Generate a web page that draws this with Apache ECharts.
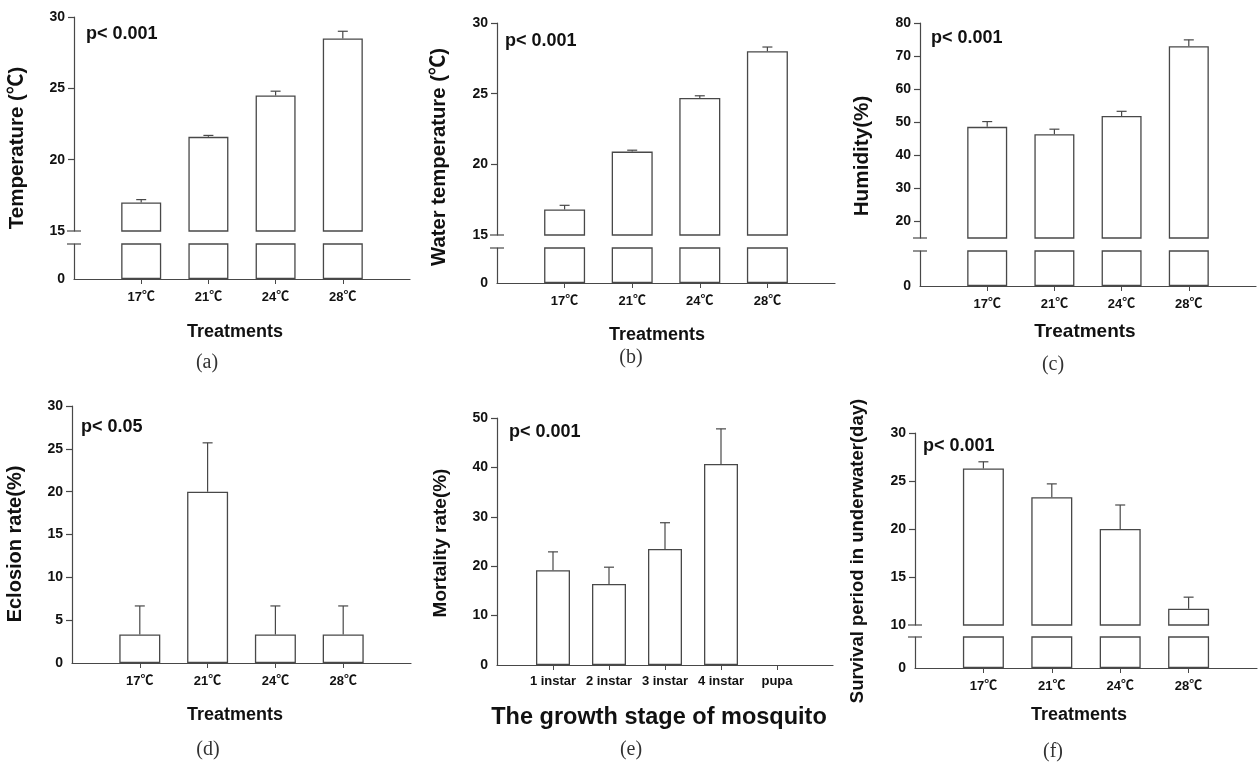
<!DOCTYPE html>
<html><head><meta charset="utf-8">
<script src="https://cdn.jsdelivr.net/npm/echarts@6/dist/echarts.min.js"></script>
<style>html,body{margin:0;padding:0;background:#fff}#c{width:1258px;height:762px}</style>
</head><body><div id="c"></div>
<script>
// ---------- data ----------
const treatments = ['17℃', '21℃', '24℃', '28℃'];
const stages = ['1 instar', '2 instar', '3 instar', '4 instar', 'pupa'];

const airTempMean = [17.0, 21.6, 24.5, 28.5];
const airTempErr = [0.2, 0.1, 0.3, 0.5];
const waterTempMean = [16.8, 20.9, 24.7, 28.0];
const waterTempErr = [0.3, 0.1, 0.15, 0.3];
const humidityMean = [48.6, 46.4, 51.9, 73.0];
const humidityErr = [1.6, 1.5, 1.4, 1.9];
const eclosionMean = [3.33, 20.0, 3.33, 3.33];
const eclosionErr = [3.33, 5.7, 3.33, 3.33];
const mortalityMean = [19.2, 16.4, 23.5, 40.7, 0];
const mortalityErr = [3.7, 3.4, 5.3, 7.1, 0];
const survivalMean = [26.3, 23.3, 20.0, 11.7];
const survivalErr = [0.7, 1.4, 2.5, 1.2];

const airTempTicks = [15, 20, 25, 30];
const waterTempTicks = [15, 20, 25, 30];
const humidityTicks = [20, 30, 40, 50, 60, 70, 80];
const eclosionTicks = [0, 5, 10, 15, 20, 25, 30];
const mortalityTicks = [0, 10, 20, 30, 40, 50];
const survivalTicks = [10, 15, 20, 25, 30];
const lowerTicks = [0];

// ---------- layout / style ----------
const LINE = '#484848';
const TXT = '#111';
const SANS = '"Liberation Sans", Arial, sans-serif';
const CJK = '"Noto Sans CJK KR", "Noto Sans CJK SC", sans-serif';
const SERIF = '"Liberation Serif", "DejaVu Serif", serif';

const panels = [
  {cats: treatments, mean: airTempMean, err: airTempErr, ticks: airTempTicks, min: 15, max: 30, broken: true,
   left: 74, right: 410, top: 17, bottom: 231, lowTop: 244, lowBottom: 279, barW: 40, xFont: 13,
   yTitle: 'Temperature (℃)', yTitlePos: [17, 148], yTitleSize: 20.5,
   xTitle: 'Treatments', xTitlePos: [235, 332], xTitleSize: 18,
   p: 'p< 0.001', pPos: [86, 34], letter: '(a)', letterPos: [207, 363]},
  {cats: treatments, mean: waterTempMean, err: waterTempErr, ticks: waterTempTicks, min: 15, max: 30, broken: true,
   left: 497, right: 835, top: 23, bottom: 235, lowTop: 248, lowBottom: 283, barW: 41, xFont: 13,
   yTitle: 'Water temperature (℃)', yTitlePos: [439, 157], yTitleSize: 20.3,
   xTitle: 'Treatments', xTitlePos: [657, 335], xTitleSize: 18,
   p: 'p< 0.001', pPos: [505, 41], letter: '(b)', letterPos: [631, 358]},
  {cats: treatments, mean: humidityMean, err: humidityErr, ticks: humidityTicks, min: 15, max: 80, broken: true,
   left: 920, right: 1256, top: 23, bottom: 238, lowTop: 251, lowBottom: 286, barW: 40, xFont: 13,
   yTitle: 'Humidity(%)', yTitlePos: [862, 156], yTitleSize: 20.7,
   xTitle: 'Treatments', xTitlePos: [1085, 332], xTitleSize: 19,
   p: 'p< 0.001', pPos: [931, 38], letter: '(c)', letterPos: [1053, 365]},
  {cats: treatments, mean: eclosionMean, err: eclosionErr, ticks: eclosionTicks, min: 0, max: 30, broken: false,
   left: 72, right: 411, top: 406, bottom: 663, barW: 41, xFont: 13,
   yTitle: 'Eclosion rate(%)', yTitlePos: [15, 544], yTitleSize: 20,
   xTitle: 'Treatments', xTitlePos: [235, 715], xTitleSize: 18,
   p: 'p< 0.05', pPos: [81, 427], letter: '(d)', letterPos: [208, 750]},
  {cats: stages, mean: mortalityMean, err: mortalityErr, ticks: mortalityTicks, min: 0, max: 50, broken: false,
   left: 497, right: 833, top: 418, bottom: 665, barW: 34, xFont: 13,
   yTitle: 'Mortality rate(%)', yTitlePos: [441, 543], yTitleSize: 19,
   xTitle: 'The growth stage of mosquito', xTitlePos: [659, 718], xTitleSize: 23.5,
   p: 'p< 0.001', pPos: [509, 432], letter: '(e)', letterPos: [631, 750]},
  {cats: treatments, mean: survivalMean, err: survivalErr, ticks: survivalTicks, min: 10, max: 30, broken: true,
   left: 915, right: 1257, top: 433, bottom: 625, lowTop: 637, lowBottom: 668, barW: 41, xFont: 13,
   yTitle: 'Survival period in underwater(day)', yTitlePos: [858, 551], yTitleSize: 18.5,
   xTitle: 'Treatments', xTitlePos: [1079, 715], xTitleSize: 18,
   p: 'p< 0.001', pPos: [923, 446], letter: '(f)', letterPos: [1053, 752]}
];

// split a string so the ℃ sign is drawn with a CJK font (rich text)
function richDeg(s, a) {
  if (s.indexOf('℃') < 0) return '{' + a + '|' + s + '}';
  const parts = s.split('℃');
  let out = '';
  parts.forEach((pt, i) => {
    if (pt) out += '{' + a + '|' + pt + '}';
    if (i < parts.length - 1) out += '{c|℃}';
  });
  return out;
}

const grids = [], xAxes = [], yAxes = [], series = [], graphics = [];

function errRender(params, api) {
  const x = api.value(0), m = api.value(1), e = api.value(2);
  if (!e) return null;
  const b = api.coord([x, m]);
  const t = api.coord([x, m + e]);
  const st = {stroke: LINE, lineWidth: 1.2};
  return {type: 'group', children: [
    {type: 'line', shape: {x1: b[0], y1: b[1], x2: t[0], y2: t[1]}, style: st},
    {type: 'line', shape: {x1: t[0] - 5, y1: t[1], x2: t[0] + 5, y2: t[1]}, style: st}
  ]};
}
function breakRender(params, api) {
  const pt = api.coord([api.value(0), api.value(1)]);
  return {type: 'line', shape: {x1: pt[0] - 7, y1: pt[1], x2: pt[0] + 7, y2: pt[1]},
          style: {stroke: LINE, lineWidth: 1.2}};
}

panels.forEach(p => {
  const n = p.cats.length;
  const idxs = p.cats.map((_, i) => i + 1);
  // zero-height bars are not drawn (as in the original figure)
  const barData = p.mean.map((v, i) => v === 0 ? [i + 1, null] : [i + 1, v]);
  const errData = p.mean.map((v, i) => [i + 1, v, p.err[i]]);

  function addGrid(top, bottom, yMin, yMax, labelVals, tickVals, showX) {
    const gi = grids.length;
    grids.push({left: p.left, top: top, width: p.right - p.left, height: bottom - top});
    xAxes.push({
      gridIndex: gi, type: 'value', min: 0, max: n + 1, show: showX,
      axisLine: {show: true, onZero: false, lineStyle: {color: LINE, width: 1.2}},
      axisTick: {show: true, customValues: idxs, length: 5, lineStyle: {color: LINE, width: 1}},
      axisLabel: {show: true, customValues: idxs,
                  formatter: v => richDeg(p.cats[Math.round(v) - 1] || '', 'n'),
                  margin: 10, color: TXT,
                  rich: {n: {fontFamily: SANS, fontWeight: 'bold', fontSize: p.xFont, color: TXT},
                         c: {fontFamily: CJK, fontWeight: 'bold', fontSize: 13, color: TXT,
                             padding: [0, 0, 3, 0]}}},
      splitLine: {show: false}
    });
    yAxes.push({
      gridIndex: gi, type: 'value', min: yMin, max: yMax,
      axisLine: {show: true, onZero: false, lineStyle: {color: LINE, width: 1.2}},
      axisTick: {show: tickVals.length > 0, customValues: tickVals, length: 6, inside: false,
                 lineStyle: {color: LINE, width: 1.2}},
      axisLabel: {show: true, customValues: labelVals, margin: 9, fontFamily: SANS, fontWeight: 'bold',
                  fontSize: 14, color: TXT},
      splitLine: {show: false}
    });
    series.push({type: 'bar', xAxisIndex: gi, yAxisIndex: gi, data: barData, barWidth: p.barW, clip: true,
                 silent: true, itemStyle: {color: '#fff', borderColor: LINE, borderWidth: 1.3}});
    return gi;
  }

  if (p.broken) {
    const up = addGrid(p.top, p.bottom, p.min, p.max, p.ticks, p.ticks.filter(t => t !== p.min), false);
    series.push({type: 'custom', xAxisIndex: up, yAxisIndex: up, data: errData, renderItem: errRender, silent: true});
    series.push({type: 'custom', xAxisIndex: up, yAxisIndex: up, data: [[0, p.min]], renderItem: breakRender, silent: true});
    const lo = addGrid(p.lowTop, p.lowBottom, 0, 1, lowerTicks, [], true);
    series.push({type: 'custom', xAxisIndex: lo, yAxisIndex: lo, data: [[0, 1]], renderItem: breakRender, silent: true});
  } else {
    const g = addGrid(p.top, p.bottom, p.min, p.max, p.ticks, p.ticks.filter(t => t !== p.min), true);
    series.push({type: 'custom', xAxisIndex: g, yAxisIndex: g, data: errData, renderItem: errRender, silent: true});
  }

  const titleRich = {
    a: {fontFamily: SANS, fontWeight: 'bold', fontSize: p.yTitleSize, fill: TXT, color: TXT},
    c: {fontFamily: CJK, fontWeight: 'bold', fontSize: p.yTitleSize, fill: TXT, color: TXT,
        padding: [0, 0, 3, 0]}
  };
  graphics.push({type: 'text', x: p.yTitlePos[0], y: p.yTitlePos[1], rotation: Math.PI / 2,
    style: {text: richDeg(p.yTitle, 'a'), rich: titleRich, fill: TXT,
            textAlign: 'center', textVerticalAlign: 'middle', align: 'center', verticalAlign: 'middle'}});
  graphics.push({type: 'text', x: p.xTitlePos[0], y: p.xTitlePos[1],
    style: {text: p.xTitle, font: 'bold ' + p.xTitleSize + 'px ' + SANS, fill: TXT,
            textAlign: 'center', textVerticalAlign: 'middle', align: 'center', verticalAlign: 'middle'}});
  graphics.push({type: 'text', x: p.pPos[0], y: p.pPos[1],
    style: {text: p.p, font: 'bold 18px ' + SANS, fill: TXT,
            textAlign: 'left', textVerticalAlign: 'middle', align: 'left', verticalAlign: 'middle'}});
  graphics.push({type: 'text', x: p.letterPos[0], y: p.letterPos[1],
    style: {text: p.letter, font: '20px ' + SERIF, fill: '#333',
            textAlign: 'center', textVerticalAlign: 'middle', align: 'center', verticalAlign: 'middle'}});
});

const chart = echarts.init(document.getElementById('c'), null, {renderer: 'canvas'});
chart.setOption({
  animation: false,
  backgroundColor: '#fff',
  grid: grids,
  xAxis: xAxes,
  yAxis: yAxes,
  series: series,
  graphic: graphics
});
</script>
</body></html>
